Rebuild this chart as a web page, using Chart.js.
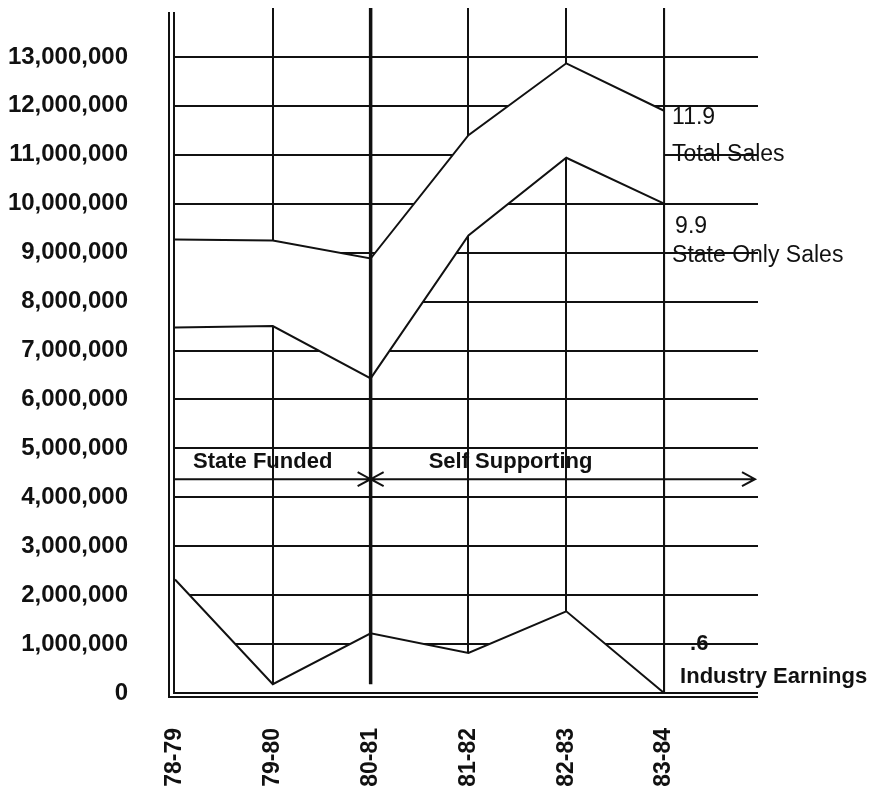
<!DOCTYPE html>
<html>
<head>
<meta charset="utf-8">
<script src="https://cdn.jsdelivr.net/npm/chart.js@4"></script>
<style>
  html, body { margin: 0; padding: 0; background: #fff; }
  #wrap { width: 869px; height: 788px; position: relative; }
</style>
</head>
<body>
<div id="wrap"><canvas id="c"></canvas></div>
<script>
const seasons = ["78-79", "79-80", "80-81", "81-82", "82-83", "83-84"];
const totalSales = [9270000, 9250000, 8880000, 11400000, 12870000, 11900000];
const stateOnlySales = [7470000, 7500000, 6430000, 9350000, 10940000, 10000000];
const industryEarnings = [2320000, 180000, 1220000, 820000, 1670000, 0];
const yTicks = [0, 1000000, 2000000, 3000000, 4000000, 5000000, 6000000,
  7000000, 8000000, 9000000, 10000000, 11000000, 12000000, 13000000];
// where the funding changes and the level of the arrow between the two eras
const fundingChange = 2;
const fundingArrowLevel = 4370000;

const INK = "#111";
const PAPER = "#fff";
const points = (arr) => arr.map((v, i) => ({ x: i, y: v }));
// the original is drawn on paper: areas under/between lines hide the grid
const line = (label, arr, fill) => ({
  label,
  data: points(arr),
  borderColor: INK,
  backgroundColor: PAPER,
  borderWidth: 2,
  pointRadius: 0,
  tension: 0,
  fill,
});

// double axis lines, the heavy 80-81 divider, funding arrow and labels
const decorations = {
  id: "decorations",
  afterDraw(chart) {
    const { ctx, chartArea: a, scales: { x, y } } = chart;
    ctx.save();
    ctx.strokeStyle = INK;
    ctx.fillStyle = INK;

    ctx.lineWidth = 2;
    ctx.beginPath();
    ctx.moveTo(a.left - 6, a.top + 4);
    ctx.lineTo(a.left - 6, a.bottom + 4);
    ctx.lineTo(a.right, a.bottom + 4);
    ctx.moveTo(a.left - 1, a.top + 4);
    ctx.lineTo(a.left - 1, a.bottom);
    ctx.lineTo(a.right, a.bottom);
    // last season line runs straight through the sales band
    const xLast = x.getPixelForValue(seasons.length - 1);
    ctx.moveTo(xLast, a.top);
    ctx.lineTo(xLast, a.bottom);
    ctx.stroke();

    const xd = x.getPixelForValue(fundingChange);
    ctx.lineWidth = 3.5;
    ctx.beginPath();
    ctx.moveTo(xd, a.top);
    ctx.lineTo(xd, y.getPixelForValue(180000));
    ctx.stroke();

    const ya = y.getPixelForValue(fundingArrowLevel);
    const xe = a.right - 3;
    ctx.lineWidth = 2;
    ctx.beginPath();
    ctx.moveTo(a.left, ya);
    ctx.lineTo(xe, ya);
    // arrow head of "State Funded"
    ctx.moveTo(xd - 13, ya - 7);
    ctx.lineTo(xd, ya);
    ctx.lineTo(xd - 13, ya + 7);
    // tail of "Self Supporting"
    ctx.moveTo(xd + 13, ya - 7);
    ctx.lineTo(xd, ya);
    ctx.lineTo(xd + 13, ya + 7);
    // final arrow head
    ctx.moveTo(xe - 13, ya - 7);
    ctx.lineTo(xe, ya);
    ctx.lineTo(xe - 13, ya + 7);
    ctx.stroke();

    ctx.textAlign = "left";
    ctx.textBaseline = "middle";
    ctx.font = "bold 22px 'Liberation Sans', Arial, sans-serif";
    ctx.fillText("State Funded", a.left + 18, ya - 17);
    ctx.fillText("Self Supporting", xd + 58, ya - 17);

    const xl = xLast + 8;
    ctx.font = "23px 'Liberation Sans', Arial, sans-serif";
    ctx.fillText("11.9", xl, y.getPixelForValue(11750000));
    ctx.fillText("Total Sales", xl, y.getPixelForValue(11000000));
    ctx.fillText("9.9", xl + 3, y.getPixelForValue(9530000));
    ctx.fillText("State Only Sales", xl, y.getPixelForValue(8930000));
    ctx.font = "bold 22px 'Liberation Sans', Arial, sans-serif";
    ctx.fillText(".6", xl + 18, y.getPixelForValue(1000000));
    ctx.fillText("Industry Earnings", xl + 8, y.getPixelForValue(320000));
    ctx.restore();
  },
};

new Chart(document.getElementById("c"), {
  type: "line",
  data: {
    datasets: [
      line("Total Sales", totalSales, "+1"),
      line("State Only Sales", stateOnlySales, false),
      line("Industry Earnings", industryEarnings, "origin"),
    ],
  },
  options: {
    animation: false,
    responsive: true,
    maintainAspectRatio: false,
    layout: { padding: { top: 8, right: 111, left: 0, bottom: 0 } },
    plugins: {
      legend: { display: false },
      tooltip: { enabled: false },
      filler: { drawTime: "beforeDatasetsDraw" },
    },
    scales: {
      x: {
        type: "linear",
        min: 0,
        max: 5.96,
        afterBuildTicks: (s) => {
          s.ticks = seasons.map((_, i) => ({ value: i }));
        },
        afterFit: (s) => {
          s.height = 95;
        },
        border: { display: false },
        grid: {
          drawTicks: false,
          lineWidth: 2,
          color: (c) =>
            c.tick && (c.tick.value === 0 || c.tick.value === fundingChange)
              ? "rgba(0,0,0,0)"
              : INK,
        },
        ticks: {
          autoSkip: false,
          minRotation: 90,
          maxRotation: 90,
          padding: 35,
          color: INK,
          font: { family: "'Liberation Sans', Arial, sans-serif", size: 23, weight: "bold" },
          callback: (v) => seasons[v],
        },
      },
      y: {
        min: 0,
        max: 14000000,
        afterBuildTicks: (s) => {
          s.ticks = yTicks.map((v) => ({ value: v }));
        },
        afterFit: (s) => {
          // the big label gap would otherwise also pad the top of the plot
          s.width = 175;
          s.paddingTop = 0;
          s.paddingBottom = 0;
        },
        border: { display: false },
        grid: {
          drawTicks: false,
          lineWidth: 2,
          color: (c) => (c.tick && c.tick.value === 0 ? "rgba(0,0,0,0)" : INK),
        },
        ticks: {
          padding: 47,
          color: INK,
          font: { family: "'Liberation Sans', Arial, sans-serif", size: 24, weight: "bold" },
          callback: (v) => v.toLocaleString("en-US"),
        },
      },
    },
  },
  plugins: [decorations],
});
</script>
</body>
</html>
